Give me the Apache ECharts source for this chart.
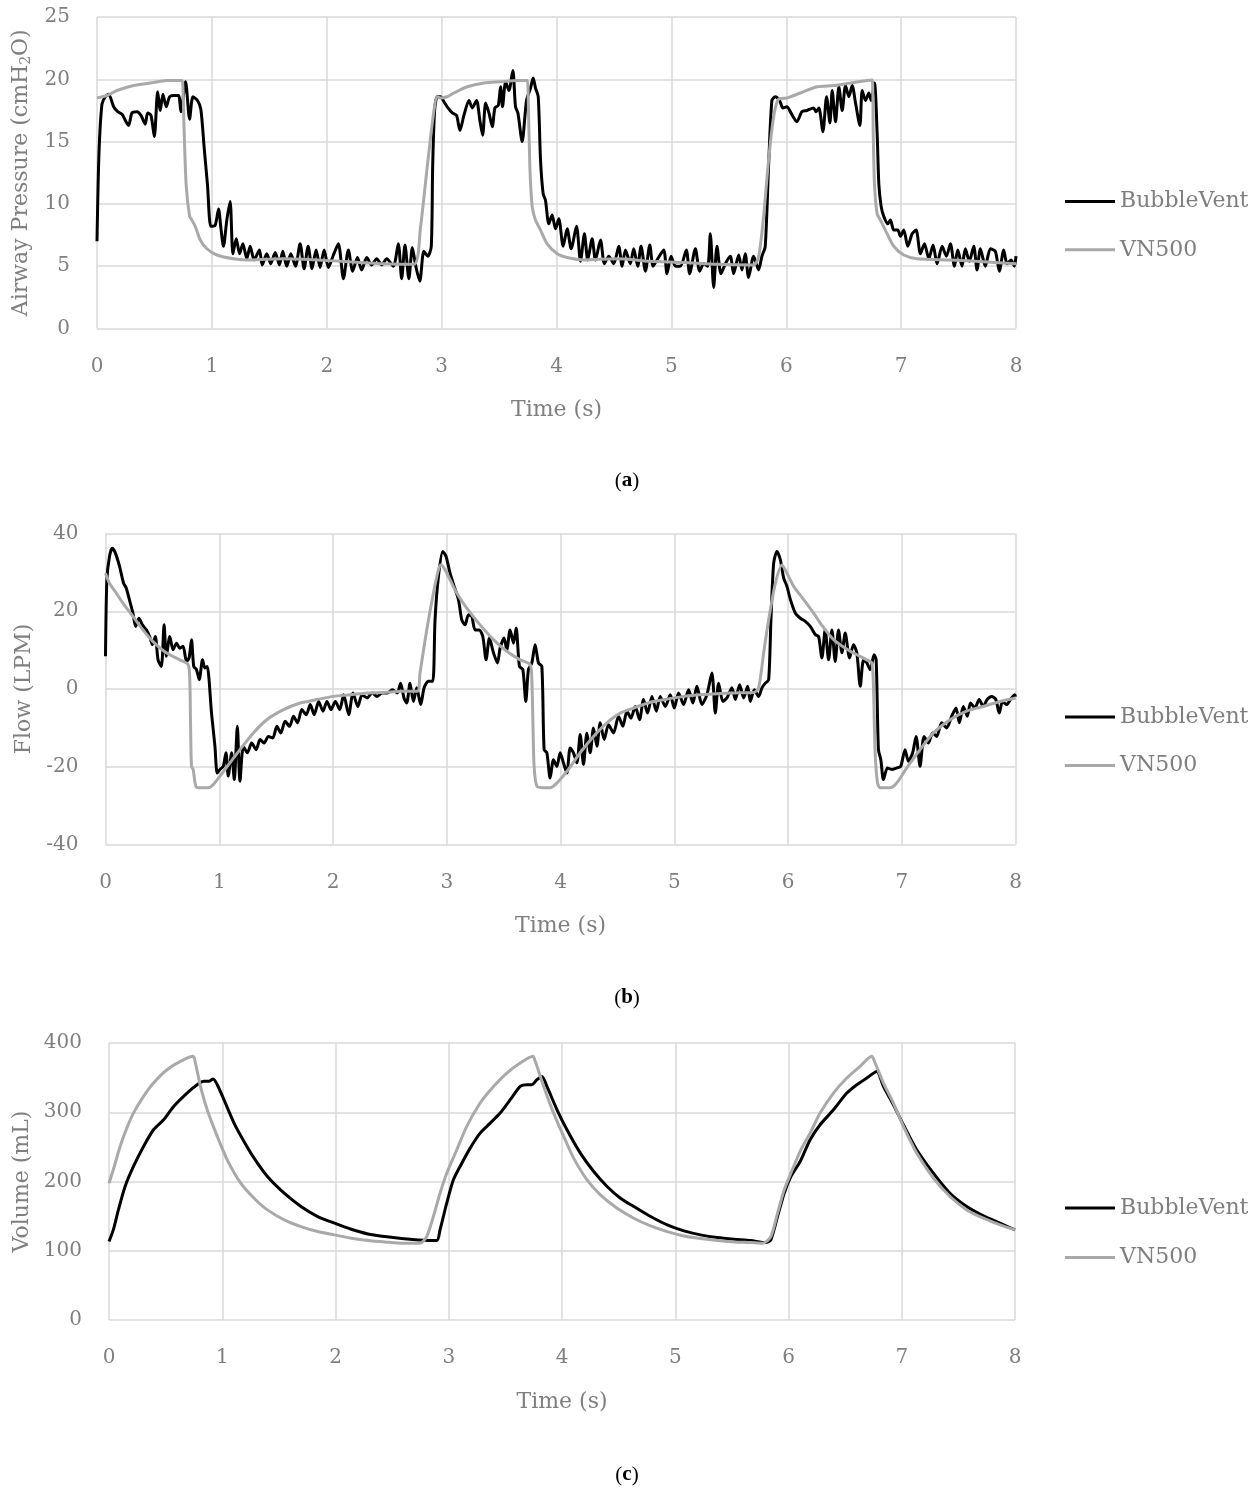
<!DOCTYPE html>
<html>
<head>
<meta charset="utf-8">
<script src="https://cdn.jsdelivr.net/npm/echarts@6/dist/echarts.min.js"></script>
<style>
html,body{margin:0;padding:0;background:#fff;}
#chart{width:1258px;height:1491px;}
</style>
</head>
<body>
<div id="chart"></div>
<script>
// ---------- DATA: [time (s), value] ----------
const timeTicks = [0,1,2,3,4,5,6,7,8];
const seriesNames = ['BubbleVent','VN500'];

const pressureBubbleVent = [[0,7.0],[0.017,14],[0.043,18.0],[0.072,18.6],[0.101,18.8],[0.145,17.8],[0.18,17.4],[0.217,17.2],[0.275,16.3],[0.304,17.3],[0.348,17.4],[0.383,17.1],[0.42,16.4],[0.441,17.3],[0.47,17.1],[0.499,15.4],[0.528,19.0],[0.551,17.5],[0.574,18.8],[0.603,17.8],[0.632,18.6],[0.667,18.7],[0.71,18.7],[0.73,17.4],[0.771,19.8],[0.806,16.8],[0.835,18.6],[0.875,18.3],[0.904,17.6],[0.933,14.5],[0.962,11.5],[0.991,8.2],[1.029,8.3],[1.058,9.6],[1.078,8.1],[1.101,6.6],[1.13,8.7],[1.159,10.2],[1.183,6.0],[1.212,7.2],[1.241,6.0],[1.27,6.8],[1.304,5.6],[1.333,6.6],[1.368,5.5],[1.414,6.3],[1.438,5.1],[1.478,6.0],[1.513,5.2],[1.551,6.1],[1.588,5.1],[1.617,6.2],[1.652,5.0],[1.687,6.0],[1.728,5.0],[1.768,6.8],[1.803,4.8],[1.838,6.6],[1.872,4.8],[1.907,6.3],[1.942,4.9],[1.977,6.3],[2.014,4.9],[2.058,5.9],[2.101,6.8],[2.145,4.0],[2.188,6.3],[2.226,4.6],[2.267,5.7],[2.304,4.7],[2.348,5.7],[2.391,5.1],[2.435,5.6],[2.478,5.1],[2.522,5.6],[2.58,5.0],[2.623,6.8],[2.652,4.0],[2.681,6.7],[2.715,4.0],[2.745,6.5],[2.775,5.0],[2.81,3.8],[2.845,6.2],[2.88,5.8],[2.91,6.6],[2.922,13.0],[2.939,17.5],[2.962,18.6],[2.991,18.6],[3.02,18.2],[3.055,17.7],[3.093,17.3],[3.13,17.1],[3.159,15.9],[3.194,17.1],[3.238,18.3],[3.267,17.7],[3.304,18.3],[3.333,16.7],[3.357,15.5],[3.383,18.1],[3.412,17.3],[3.441,16.2],[3.464,17.7],[3.493,17.9],[3.513,19.4],[3.53,17.8],[3.557,19.8],[3.586,19.1],[3.62,20.7],[3.643,17.8],[3.664,17.3],[3.701,15.0],[3.739,18.3],[3.774,19.3],[3.797,20.1],[3.817,19.3],[3.841,18.6],[3.861,13.5],[3.884,10.8],[3.904,10.3],[3.933,8.4],[3.962,9.1],[3.991,8.0],[4.02,8.8],[4.058,6.6],[4.093,8.0],[4.128,6.4],[4.174,8.2],[4.209,5.4],[4.243,7.6],[4.272,5.5],[4.31,7.2],[4.339,5.5],[4.383,7.1],[4.417,5.2],[4.455,5.8],[4.499,5.2],[4.542,6.6],[4.571,5.0],[4.6,6.3],[4.643,5.2],[4.672,6.4],[4.707,5.0],[4.736,6.6],[4.774,4.6],[4.812,6.7],[4.841,5.0],[4.875,5.5],[4.933,6.3],[4.962,4.4],[4.997,5.8],[5.035,5.0],[5.078,5.0],[5.13,6.3],[5.159,4.4],[5.209,6.4],[5.246,4.6],[5.281,5.2],[5.316,5.0],[5.339,7.6],[5.368,3.3],[5.397,6.6],[5.432,4.4],[5.47,5.2],[5.513,5.8],[5.542,4.4],[5.586,5.9],[5.614,4.7],[5.643,6.0],[5.672,4.1],[5.716,5.8],[5.759,4.7],[5.788,5.8],[5.817,6.6],[5.846,13.0],[5.875,18.3],[5.904,18.6],[5.942,18.3],[5.971,17.7],[6.006,17.8],[6.041,17.3],[6.093,16.6],[6.136,17.4],[6.18,17.5],[6.238,17.7],[6.26,17.4],[6.284,17.7],[6.319,15.8],[6.351,18.6],[6.38,16.5],[6.4,19.1],[6.429,16.6],[6.458,19.4],[6.487,17.5],[6.516,19.5],[6.545,18.6],[6.574,19.5],[6.603,18.1],[6.641,16.3],[6.661,19.1],[6.69,18.3],[6.719,18.9],[6.739,18.3],[6.768,19.7],[6.791,15.7],[6.806,11.6],[6.826,9.8],[6.849,9.0],[6.884,8.4],[6.907,8.7],[6.936,7.9],[6.971,7.9],[6.994,7.4],[7.023,7.9],[7.058,6.6],[7.096,7.6],[7.13,7.9],[7.168,6.0],[7.203,6.8],[7.241,5.6],[7.278,6.7],[7.313,5.2],[7.357,6.6],[7.394,5.8],[7.429,6.8],[7.464,5.0],[7.493,6.3],[7.53,5.0],[7.559,6.4],[7.594,5.4],[7.632,6.6],[7.661,4.7],[7.69,6.4],[7.733,5.0],[7.777,6.4],[7.82,6.2],[7.855,4.6],[7.893,6.3],[7.922,5.2],[7.957,5.5],[7.986,5.0],[8.0,5.8]];

const pressureVN500 = [[0,18.5],[0.087,18.7],[0.174,19.1],[0.319,19.5],[0.464,19.7],[0.609,19.9],[0.739,19.9],[0.748,19.4],[0.759,15.7],[0.777,11.4],[0.806,9.0],[0.826,8.7],[0.855,8.2],[0.899,7.1],[0.957,6.4],[1.043,5.9],[1.188,5.6],[1.333,5.5],[1.623,5.6],[1.913,5.5],[2.203,5.35],[2.493,5.2],[2.759,5.15],[2.817,8.2],[2.875,13.0],[2.933,17.5],[2.962,18.6],[2.991,18.5],[3.049,18.6],[3.107,18.9],[3.223,19.4],[3.368,19.7],[3.513,19.8],[3.658,19.9],[3.745,19.9],[3.754,18.3],[3.768,13.0],[3.788,9.8],[3.817,8.7],[3.861,7.9],[3.919,6.8],[4.006,6.0],[4.093,5.7],[4.238,5.5],[4.528,5.6],[4.817,5.4],[5.107,5.3],[5.397,5.15],[5.716,5.1],[5.759,5.75],[5.803,9.0],[5.846,13.5],[5.89,17.0],[5.933,18.4],[6.007,18.5],[6.122,18.9],[6.267,19.4],[6.414,19.5],[6.559,19.7],[6.704,19.9],[6.748,19.95],[6.757,15.7],[6.768,11.6],[6.791,9.2],[6.82,8.7],[6.878,7.6],[6.936,6.6],[7.023,5.9],[7.139,5.6],[7.429,5.5],[7.719,5.35],[8.0,5.2]];

const flowBubbleVent = [[0,8.4],[0.012,28.1],[0.035,34.1],[0.059,36.2],[0.088,34.9],[0.124,31.5],[0.159,27.2],[0.182,26.0],[0.218,22.1],[0.241,19.5],[0.265,16.1],[0.294,18.2],[0.324,16.5],[0.359,15.2],[0.388,13.5],[0.412,11.4],[0.438,13.5],[0.462,7.5],[0.491,5.8],[0.515,16.5],[0.535,8.4],[0.565,13.5],[0.594,10.1],[0.624,11.8],[0.653,10.5],[0.682,11.0],[0.712,7.1],[0.735,8.0],[0.756,12.7],[0.776,5.8],[0.8,5.0],[0.824,2.4],[0.853,7.5],[0.874,5.4],[0.894,5.8],[0.932,-6.2],[0.962,-14.7],[0.982,-21.6],[1.006,-20.7],[1.035,-19.9],[1.059,-16.4],[1.079,-22.4],[1.109,-16.4],[1.132,-23.3],[1.159,-9.6],[1.182,-23.7],[1.212,-14.7],[1.247,-16.4],[1.285,-13.9],[1.324,-15.6],[1.359,-13.0],[1.394,-13.9],[1.432,-12.2],[1.471,-12.6],[1.506,-9.6],[1.541,-11.3],[1.579,-8.3],[1.618,-9.6],[1.653,-7.0],[1.688,-8.7],[1.726,-5.3],[1.765,-6.6],[1.8,-4.0],[1.835,-6.6],[1.874,-3.2],[1.912,-5.7],[1.947,-3.2],[1.982,-5.3],[2.021,-3.2],[2.059,-5.3],[2.094,-1.5],[2.138,-6.6],[2.176,-1.0],[2.218,-4.5],[2.256,-1.5],[2.3,-2.3],[2.344,-1.0],[2.388,-1.9],[2.432,-1.0],[2.476,-1.0],[2.521,-0.2],[2.565,-1.0],[2.594,1.5],[2.624,-2.3],[2.648,-3.6],[2.677,1.5],[2.707,-3.2],[2.736,0.3],[2.771,-4.0],[2.801,0.3],[2.839,2.0],[2.877,2.0],[2.897,17.8],[2.927,29.0],[2.965,35.4],[2.994,34.1],[3.029,29.8],[3.065,26.4],[3.103,23.0],[3.132,17.8],[3.161,16.5],[3.191,19.1],[3.22,18.7],[3.249,15.2],[3.287,15.2],[3.317,13.5],[3.346,7.5],[3.375,13.1],[3.411,9.3],[3.446,6.7],[3.469,10.5],[3.504,13.1],[3.528,10.1],[3.557,15.2],[3.587,11.8],[3.61,15.7],[3.639,5.8],[3.669,5.0],[3.695,-3.2],[3.718,5.0],[3.748,6.7],[3.777,11.4],[3.806,6.7],[3.836,5.8],[3.856,-15.6],[3.88,-16.4],[3.909,-22.9],[3.938,-18.2],[3.968,-19.9],[3.997,-16.4],[4.026,-19.0],[4.056,-21.6],[4.085,-15.2],[4.114,-16.4],[4.144,-19.0],[4.173,-11.7],[4.202,-19.4],[4.232,-11.3],[4.261,-16.4],[4.29,-10.0],[4.32,-14.7],[4.349,-8.7],[4.384,-13.0],[4.422,-9.2],[4.466,-11.3],[4.51,-7.0],[4.548,-9.6],[4.584,-5.7],[4.619,-7.5],[4.657,-4.5],[4.695,-7.9],[4.73,-2.7],[4.765,-6.2],[4.804,-1.9],[4.842,-5.7],[4.877,-1.9],[4.921,-4.5],[4.965,-1.5],[5.0,-4.9],[5.038,-1.0],[5.082,-4.0],[5.126,-0.2],[5.164,-3.6],[5.199,0.7],[5.243,-4.0],[5.287,-1.5],[5.331,4.1],[5.361,-6.2],[5.39,1.5],[5.428,-3.2],[5.463,-2.3],[5.507,0.3],[5.537,-2.7],[5.575,1.1],[5.61,-2.3],[5.645,0.7],[5.669,-3.2],[5.704,-0.2],[5.742,-1.9],[5.771,0.3],[5.801,1.5],[5.83,2.4],[5.85,17.8],[5.874,32.4],[5.903,35.4],[5.933,33.2],[5.962,28.5],[5.991,26.4],[6.021,23.0],[6.065,19.5],[6.109,18.2],[6.152,17.4],[6.196,16.1],[6.24,14.0],[6.269,13.5],[6.298,8.0],[6.327,15.2],[6.357,7.5],[6.386,15.2],[6.415,7.1],[6.444,15.2],[6.474,9.3],[6.503,14.4],[6.541,8.0],[6.576,11.4],[6.605,9.3],[6.635,0.7],[6.664,7.5],[6.693,6.7],[6.722,5.0],[6.757,8.8],[6.775,7.5],[6.795,-15.6],[6.816,-18.2],[6.839,-23.3],[6.874,-20.3],[6.912,-20.7],[6.956,-20.3],[6.991,-19.9],[7.029,-15.6],[7.058,-18.6],[7.096,-16.4],[7.126,-12.2],[7.161,-19.9],[7.196,-12.2],[7.234,-13.9],[7.272,-11.3],[7.307,-12.2],[7.351,-8.7],[7.395,-10.0],[7.439,-7.0],[7.477,-4.9],[7.506,-8.7],[7.541,-4.5],[7.576,-7.0],[7.605,-3.6],[7.643,-4.9],[7.681,-2.7],[7.716,-4.5],[7.751,-2.7],[7.789,-1.9],[7.827,-2.7],[7.857,-6.2],[7.886,-3.2],[7.921,-4.0],[7.956,-2.7],[7.994,-1.5],[8.0,-2.0]];

const flowVN500 = [[0,29.8],[0.035,27.2],[0.094,24.7],[0.153,22.1],[0.241,18.7],[0.329,15.2],[0.418,12.2],[0.535,9.3],[0.653,7.5],[0.726,6.3],[0.741,2.4],[0.747,-7.9],[0.756,-19.9],[0.771,-20.7],[0.794,-25.0],[0.829,-25.4],[0.903,-25.4],[0.947,-24.6],[1.006,-22.4],[1.094,-19.0],[1.182,-15.6],[1.3,-11.3],[1.418,-7.9],[1.565,-5.3],[1.712,-3.6],[1.859,-2.7],[2.006,-1.9],[2.153,-1.5],[2.3,-1.0],[2.447,-0.9],[2.594,-0.6],[2.741,-0.6],[2.765,4.1],[2.824,15.2],[2.883,24.7],[2.927,30.7],[2.947,31.9],[2.985,30.7],[3.029,28.1],[3.088,24.7],[3.176,20.8],[3.293,16.5],[3.411,12.7],[3.528,9.7],[3.645,7.5],[3.733,6.3],[3.748,2.4],[3.757,-7.9],[3.768,-19.9],[3.792,-25.0],[3.85,-25.4],[3.909,-25.4],[3.968,-24.2],[4.056,-21.2],[4.173,-16.4],[4.29,-12.2],[4.408,-8.7],[4.525,-6.2],[4.642,-4.9],[4.789,-3.4],[4.935,-2.6],[5.082,-1.9],[5.229,-1.5],[5.375,-1.2],[5.522,-1.0],[5.698,-0.9],[5.742,0.3],[5.786,9.3],[5.83,17.8],[5.889,27.2],[5.947,31.9],[5.991,29.8],[6.05,26.4],[6.138,23.0],[6.226,19.5],[6.3,16.3],[6.401,12.7],[6.547,9.7],[6.693,7.5],[6.737,6.7],[6.751,0.7],[6.766,-16.4],[6.787,-24.2],[6.81,-25.4],[6.898,-25.4],[6.956,-24.2],[7.044,-20.3],[7.161,-15.6],[7.278,-11.3],[7.424,-7.9],[7.57,-5.7],[7.716,-4.5],[7.863,-3.2],[8.0,-2.3]];

const volumeBubbleVent = [[0,113.3],[0.038,130.1],[0.083,159.0],[0.142,192.8],[0.216,221.7],[0.305,250.6],[0.393,274.7],[0.482,289.2],[0.571,308.4],[0.689,327.7],[0.778,339.8],[0.837,344.6],[0.882,344.6],[0.92,348.0],[0.956,339.8],[1.015,318.1],[1.104,284.3],[1.192,257.8],[1.281,233.7],[1.399,207.2],[1.547,183.1],[1.695,163.9],[1.843,149.4],[1.991,139.8],[2.139,131.1],[2.287,124.3],[2.435,120.5],[2.583,117.6],[2.731,115.7],[2.894,114.7],[2.923,130.1],[2.982,168.7],[3.041,202.4],[3.1,221.7],[3.189,248.2],[3.277,269.9],[3.366,284.3],[3.454,298.8],[3.543,318.1],[3.631,337.3],[3.69,339.8],[3.735,339.8],[3.779,347.0],[3.823,351.8],[3.867,337.3],[3.956,303.6],[4.044,274.7],[4.162,241.0],[4.28,214.5],[4.398,192.8],[4.516,175.9],[4.634,163.9],[4.782,149.4],[4.929,137.3],[5.077,128.7],[5.224,122.9],[5.372,119.0],[5.519,116.6],[5.667,114.7],[5.799,111.8],[5.844,115.7],[5.903,149.4],[5.962,183.1],[6.021,207.2],[6.103,228.9],[6.191,260.2],[6.279,281.9],[6.397,303.6],[6.515,327.7],[6.603,339.8],[6.691,349.4],[6.779,359.0],[6.838,337.3],[6.926,310.8],[7.015,281.9],[7.132,245.8],[7.279,212.0],[7.426,183.1],[7.574,163.9],[7.721,150.4],[7.868,139.8],[8.0,130.1]];

const volumeVN500 = [[0,197.6],[0.038,216.9],[0.098,250.6],[0.157,277.1],[0.216,298.8],[0.305,322.9],[0.393,342.2],[0.512,361.4],[0.63,373.5],[0.743,380.7],[0.763,371.1],[0.808,337.3],[0.867,303.6],[0.956,265.1],[1.044,231.3],[1.163,197.6],[1.281,175.9],[1.399,159.0],[1.547,144.6],[1.695,134.9],[1.843,127.7],[1.991,122.9],[2.139,118.1],[2.287,114.7],[2.435,112.8],[2.583,110.8],[2.746,110.8],[2.805,120.5],[2.864,149.4],[2.923,183.1],[2.982,212.0],[3.071,245.8],[3.159,279.5],[3.277,313.3],[3.395,337.3],[3.513,356.6],[3.631,371.1],[3.743,380.7],[3.764,373.5],[3.838,337.3],[3.926,298.8],[4.015,265.1],[4.103,233.7],[4.221,202.4],[4.339,180.7],[4.487,161.4],[4.634,147.0],[4.782,135.9],[4.929,127.7],[5.077,121.4],[5.224,117.6],[5.372,114.7],[5.519,112.8],[5.667,111.8],[5.77,110.8],[5.844,120.5],[5.903,154.2],[5.962,188.0],[6.021,212.0],[6.109,245.8],[6.191,269.9],[6.279,298.8],[6.397,327.7],[6.515,349.4],[6.632,366.3],[6.735,380.7],[6.765,371.1],[6.838,342.2],[6.926,313.3],[7.015,279.5],[7.132,241.0],[7.279,204.8],[7.426,178.3],[7.574,159.0],[7.721,147.0],[7.868,137.3],[8.0,130.1]];

const panelCaptions = ['a','b','c'];
const yTitles = ['Airway Pressure (cmH{s|2}O)', 'Flow (LPM)', 'Volume (mL)'];
const xTitle = 'Time (s)';

// ---------- STYLE / LAYOUT ----------
const FONT = 'DejaVu Serif';
const TXT = '#7f7f7f';
const GRID = '#d9d9d9';
const C_BV = '#000000';
const C_VN = '#a9a9a9';

const grids = [
  {left: 97, top: 17, width: 919, height: 311.5},
  {left: 105.5, top: 533.5, width: 910, height: 311},
  {left: 109, top: 1043, width: 906, height: 277}
];
const yRanges = [{min:0,max:25,interval:5},{min:-40,max:40,interval:20},{min:0,max:400,interval:100}];
const yNameGaps = [62, 70, 75];
const legendTops = [185.5, 701, 1192];
const legendGaps = [26.3, 26.4, 27.4];
const captionY = [481, 998, 1475];

const chart = echarts.init(document.getElementById('chart'), null, {renderer: 'canvas'});

const xAxes = grids.map((g, i) => ({
  type: 'value', gridIndex: i, min: timeTicks[0], max: timeTicks[timeTicks.length-1], interval: 1,
  name: xTitle, nameLocation: 'middle', nameGap: 71,
  nameTextStyle: {color: TXT, fontSize: 22, fontFamily: FONT},
  axisLine: {show: false}, axisTick: {show: false},
  axisLabel: {color: TXT, fontSize: 20, fontFamily: FONT, margin: 28},
  splitLine: {show: true, lineStyle: {color: GRID, width: 1.5}}
}));
const yAxes = grids.map((g, i) => ({
  type: 'value', gridIndex: i, min: yRanges[i].min, max: yRanges[i].max, interval: yRanges[i].interval,
  name: yTitles[i], nameLocation: 'middle', nameRotate: 90, nameGap: yNameGaps[i],
  nameTextStyle: {color: TXT, fontSize: 22, fontFamily: FONT,
    rich: {s: {fontSize: 14, fontFamily: FONT, color: TXT, padding: [10,0,0,0]}}},
  axisLine: {show: false}, axisTick: {show: false},
  axisLabel: {color: TXT, fontSize: 20, fontFamily: FONT, margin: 27},
  splitLine: {show: true, lineStyle: {color: GRID, width: 1.5}}
}));

const dataSets = [
  [pressureBubbleVent, pressureVN500],
  [flowBubbleVent, flowVN500],
  [volumeBubbleVent, volumeVN500]
];
const series = [];
dataSets.forEach((pair, i) => {
  pair.forEach((d, k) => {
    series.push({
      name: seriesNames[k], type: 'line', xAxisIndex: i, yAxisIndex: i,
      data: d, showSymbol: false, symbol: 'none', smooth: 0.25,
      lineStyle: {color: k === 0 ? C_BV : C_VN, width: 3},
      itemStyle: {color: k === 0 ? C_BV : C_VN},
      emphasis: {disabled: true}, z: 2 + k
    });
  });
});

const legends = grids.map((g, i) => ({
  orient: 'vertical', left: 1060, top: legendTops[i], itemGap: legendGaps[i],
  itemWidth: 50, itemHeight: 3, icon: 'rect', data: seriesNames,
  textStyle: {color: TXT, fontSize: 22, fontFamily: FONT, lineHeight: 22},
  selectedMode: false
}));

const graphics = panelCaptions.map((c, i) => ({
  type: 'text', x: 627, y: captionY[i],
  style: {
    text: '({b|' + c + '})', fill: '#000', fontSize: 21, fontFamily: 'Liberation Serif',
    align: 'center', verticalAlign: 'middle',
    rich: {b: {fontWeight: 'bold', fontSize: 21, fontFamily: 'Liberation Serif', fill: '#000'}}
  }
}));

chart.setOption({
  backgroundColor: '#ffffff',
  animation: false,
  grid: grids,
  xAxis: xAxes,
  yAxis: yAxes,
  legend: legends,
  series: series,
  graphic: graphics
});
</script>
</body>
</html>
